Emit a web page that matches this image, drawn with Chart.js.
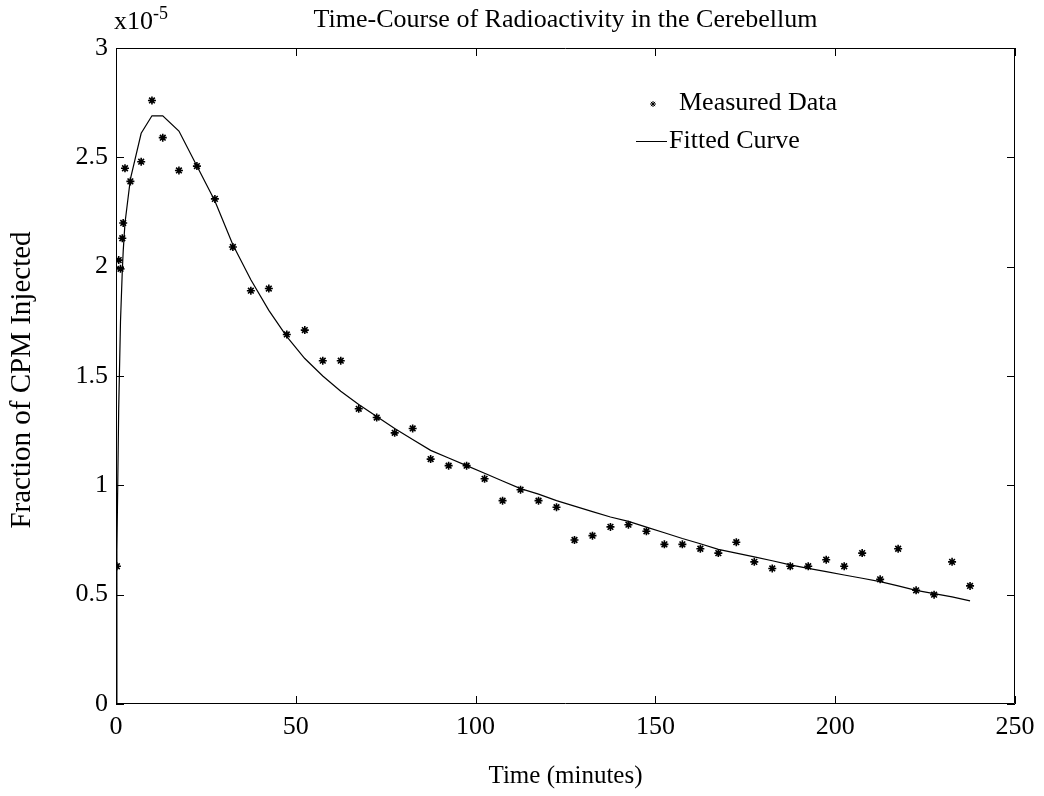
<!DOCTYPE html>
<html>
<head>
<meta charset="utf-8">
<script src="https://cdn.jsdelivr.net/npm/chart.js@4/dist/chart.umd.min.js"></script>
<style>
  html, body { margin: 0; padding: 0; background: #fff; }
  canvas { display: block; }
</style>
</head>
<body>
<canvas id="chart" width="1044" height="796"></canvas>
<script>
// sample times in minutes, values in units of 1e-5 of injected CPM
const times = [0.25, 0.75, 1.25, 1.75, 2, 2.5, 4, 7, 10, 13,
  17.5, 22.5, 27.5, 32.5, 37.5, 42.5, 47.5, 52.5, 57.5, 62.5,
  67.5, 72.5, 77.5, 82.5, 87.5, 92.5, 97.5, 102.5, 107.5, 112.5,
  117.5, 122.5, 127.5, 132.5, 137.5, 142.5, 147.5, 152.5, 157.5, 162.5,
  167.5, 172.5, 177.5, 182.5, 187.5, 192.5, 197.5, 202.5, 207.5, 212.5,
  217.5, 222.5, 227.5, 232.5, 237.5];
const measured = [0.63, 2.03, 1.99, 2.13, 2.20, 2.45, 2.39, 2.48, 2.76, 2.59,
  2.44, 2.46, 2.31, 2.09, 1.89, 1.90, 1.69, 1.71, 1.57, 1.57,
  1.35, 1.31, 1.24, 1.26, 1.12, 1.09, 1.09, 1.03, 0.93, 0.98,
  0.93, 0.90, 0.75, 0.77, 0.81, 0.82, 0.79, 0.73, 0.73, 0.71,
  0.69, 0.74, 0.65, 0.62, 0.63, 0.63, 0.66, 0.63, 0.69, 0.57,
  0.71, 0.52, 0.50, 0.65, 0.54];

const fit_times = [0, 0.25, 0.75, 1.25, 1.75, 2, 2.5, 4, 7, 10, 13,
  17.5, 22.5, 27.5, 32.5, 37.5, 42.5, 47.5, 52.5, 57.5, 62.5,
  67.5, 72.5, 77.5, 82.5, 87.5, 92.5, 97.5, 102.5, 107.5, 112.5,
  117.5, 122.5, 127.5, 132.5, 137.5, 142.5, 147.5, 152.5, 157.5, 162.5,
  167.5, 172.5, 177.5, 182.5, 187.5, 192.5, 197.5, 202.5, 207.5, 212.5,
  217.5, 222.5, 227.5, 232.5, 237.5];
const fitted = [0, 0.70, 1.35, 1.75, 1.98, 2.07, 2.20, 2.40, 2.61, 2.69, 2.69,
  2.62, 2.46, 2.30, 2.10, 1.94, 1.80, 1.68, 1.58, 1.50, 1.43,
  1.37, 1.315, 1.26, 1.21, 1.16, 1.125, 1.09, 1.055, 1.02, 0.985,
  0.96, 0.93, 0.905, 0.88, 0.855, 0.835, 0.809, 0.783, 0.757, 0.733,
  0.707, 0.69, 0.673, 0.655, 0.636, 0.62, 0.605, 0.59, 0.575, 0.56,
  0.54, 0.52, 0.505, 0.49, 0.472];

const x_ticks = [0, 50, 100, 150, 200, 250];
const y_ticks = [0, 0.5, 1, 1.5, 2, 2.5, 3];
const y_exponent = "-5";

const title_text = "Time-Course of Radioactivity in the Cerebellum";
const x_title = "Time (minutes)";
const y_title = "Fraction of CPM Injected";
const legend_labels = ["Measured Data", "Fitted Curve"];

const serif = '"Liberation Serif", "Times New Roman", serif';
const font_size = 26;

// box, inward ticks, titles, exponent and legend in the MATLAB look
const frame_plugin = {
  id: "frame",
  afterDraw(chart) {
    const { ctx, chartArea: a, scales: { x, y } } = chart;
    const tick = 8;
    ctx.save();
    ctx.strokeStyle = "#000";
    ctx.lineWidth = 1;
    ctx.beginPath();
    ctx.rect(a.left + 0.5, a.top + 0.5, a.right - a.left - 1, a.bottom - a.top - 1);
    x_ticks.forEach((v) => {
      const px = Math.round(x.getPixelForValue(v)) + 0.5;
      ctx.moveTo(px, a.bottom);
      ctx.lineTo(px, a.bottom - tick);
      ctx.moveTo(px, a.top);
      ctx.lineTo(px, a.top + tick);
    });
    y_ticks.forEach((v) => {
      const py = Math.round(y.getPixelForValue(v)) + 0.5;
      ctx.moveTo(a.left, py);
      ctx.lineTo(a.left + tick, py);
      ctx.moveTo(a.right, py);
      ctx.lineTo(a.right - tick, py);
    });
    ctx.stroke();

    ctx.fillStyle = "#000";
    ctx.font = `${font_size}px ${serif}`;
    ctx.textBaseline = "middle";
    ctx.textAlign = "center";
    ctx.fillText(title_text, (a.left + a.right) / 2, 20);
    ctx.font = `25px ${serif}`;
    ctx.fillText(x_title, (a.left + a.right) / 2, 776);

    ctx.save();
    ctx.font = `29px ${serif}`;
    ctx.translate(22, (a.top + a.bottom) / 2 + 4);
    ctx.rotate(-Math.PI / 2);
    ctx.fillText(y_title, 0, 0);
    ctx.restore();

    // exponent for the y axis
    ctx.font = `${font_size}px ${serif}`;
    ctx.textAlign = "left";
    ctx.textBaseline = "alphabetic";
    ctx.fillText("x10", a.left - 2, 29);
    const w = ctx.measureText("x10").width;
    ctx.font = `${Math.round(font_size * 0.7)}px ${serif}`;
    ctx.fillText(y_exponent, a.left - 2 + w, 19);

    // legend
    ctx.font = `${font_size}px ${serif}`;
    ctx.textBaseline = "middle";
    ctx.fillText(legend_labels[0], 679, 103);
    ctx.fillText(legend_labels[1], 669, 141);
    Chart.helpers.drawPoint(ctx, { pointStyle: "star", radius: 3, borderWidth: 1.2 }, 653, 104);
    ctx.beginPath();
    ctx.moveTo(636, 141.5);
    ctx.lineTo(667, 141.5);
    ctx.stroke();
    ctx.restore();
  },
};

new Chart(document.getElementById("chart"), {
  data: {
    datasets: [
      {
        type: "line",
        label: legend_labels[1],
        data: fit_times.map((t, i) => ({ x: t, y: fitted[i] })),
        borderColor: "#000",
        borderWidth: 1.2,
        pointRadius: 0,
        tension: 0,
        fill: false,
      },
      {
        type: "scatter",
        label: legend_labels[0],
        data: times.map((t, i) => ({ x: t, y: measured[i] })),
        pointStyle: "star",
        pointRadius: 4,
        borderColor: "#000",
        backgroundColor: "#000",
        borderWidth: 1.6,
      },
    ],
  },
  options: {
    responsive: false,
    devicePixelRatio: 1,
    animation: false,
    layout: { padding: { left: 0, right: 29, top: 48, bottom: 0 } },
    plugins: {
      legend: { display: false },
      title: { display: false },
      tooltip: { enabled: false },
    },
    scales: {
      x: {
        type: "linear",
        min: 0,
        max: 250,
        grid: { display: false, drawTicks: false },
        border: { display: false },
        afterFit: (scale) => { scale.height = 92; },
        afterBuildTicks: (scale) => { scale.ticks = x_ticks.map((v) => ({ value: v })); },
        ticks: {
          autoSkip: false,
          maxRotation: 0,
          padding: 8,
          color: "#000",
          font: { family: serif, size: font_size },
          callback: (v) => String(v),
        },
      },
      y: {
        type: "linear",
        min: 0,
        max: 3,
        grid: { display: false, drawTicks: false },
        border: { display: false },
        afterFit: (scale) => { scale.width = 116; },
        afterBuildTicks: (scale) => { scale.ticks = y_ticks.map((v) => ({ value: v })); },
        ticks: {
          autoSkip: false,
          padding: 8,
          color: "#000",
          font: { family: serif, size: font_size },
          callback: (v) => String(v),
        },
      },
    },
  },
  plugins: [frame_plugin],
});
</script>
</body>
</html>
